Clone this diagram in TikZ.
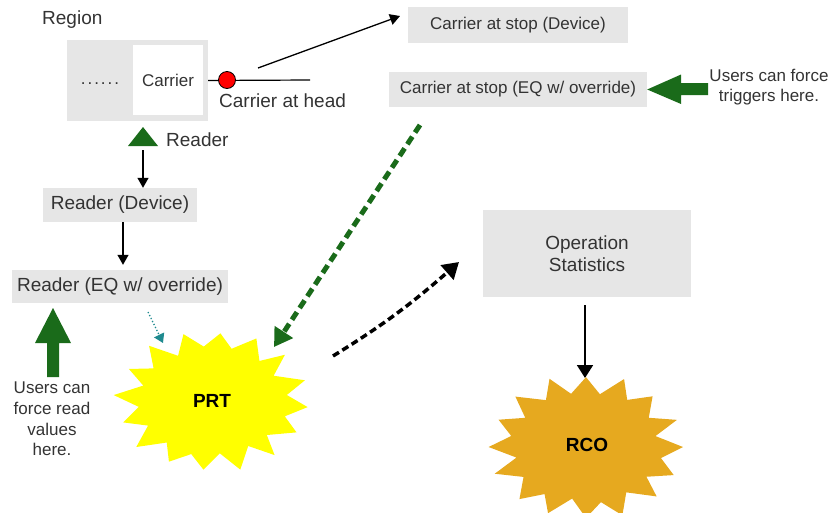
\documentclass[tikz,border=0pt]{standalone}
\usepackage{fontspec}
\setmainfont{Liberation Sans}
\usetikzlibrary{arrows.meta,bending}
\definecolor{boxgray}{HTML}{E6E6E6}
\definecolor{txt}{HTML}{333333}
\definecolor{dgreen}{HTML}{1A6B1A}
\definecolor{tealc}{HTML}{1F8A8F}
\definecolor{rcogold}{HTML}{E6A91F}
\definecolor{prtyellow}{HTML}{FFFF00}
\begin{document}
\begin{tikzpicture}[x=1pt,y=-1pt,
  box/.style={fill=boxgray, draw=none, text=txt, inner sep=0pt, align=center},
  lbl/.style={text=txt, inner sep=0pt},
  fbig/.style={font=\fontsize{19}{22}\selectfont},
  fmid/.style={font=\fontsize{17}{20.7}\selectfont},
  fbold/.style={font=\bfseries\fontsize{19}{22}\selectfont},
  arr/.style={-{Triangle[length=10pt,width=11pt]}, line width=1.3pt},
  bigarr/.style={-{Triangle[length=13pt,width=16pt]}, line width=1.8pt}
]
\useasboundingbox (0,0) rectangle (829,512);

% Region
\node[lbl, fbig, anchor=west] (regionlbl) at (42,20) {Region};
\node[box, minimum width=141pt, minimum height=81pt] (region) at (137.5,80.5) {};
\node[fill=white, minimum width=70pt, minimum height=70pt, inner sep=0pt, text=txt, fmid] (carrier) at (168,80) {Carrier};
\node[lbl, fmid] (dots) at (100,84) {.\kern2pt.\kern2pt.\kern2pt.\kern2pt.\kern2pt.};
\coordinate (lineend) at (310,80);
\draw[line width=1.2pt] (region.east) -- (lineend);
\node[circle, fill=red, draw=black, line width=0.8pt, minimum size=17pt, inner sep=0pt] (head) at (227,80) {};
\node[lbl, fbig, anchor=west] (headlbl) at (219,101) {Carrier at head};

% carrier at stop
\node[box, fmid, minimum width=220pt, minimum height=36pt] (dev) at (518,25) {Carrier at stop (Device)};
\node[box, fmid, minimum width=258pt, minimum height=35pt] (eq) at (518,89.5) {Carrier at stop (EQ w/ override)};
\coordinate (a1s) at (258,68);
\coordinate (a1e) at (400,16);
\draw[arr] (a1s) -- (a1e);

% users force triggers
\fill[dgreen] (eq.east) -- (681,74.5) -- (681,83) -- (708,83) -- (708,95) -- (681,95) -- (681,104) -- cycle;
\node[lbl, fmid, align=center] (trig) at (769,87) {Users can force\\triggers here.};

% reader
\fill[dgreen] (143,127) -- (158,146) -- (128,146) -- cycle;
\node[lbl, fbig, anchor=west] (readerlbl) at (166,140) {Reader};
\node[box, fbig, minimum width=154pt, minimum height=34pt] (readdev) at (120,205) {Reader (Device)};
\node[box, fbig, minimum width=216pt, minimum height=33pt] (readeq) at (120,286.5) {Reader (EQ w/ override)};
\coordinate (trib) at (143,150);
\draw[arr] (trib) -- (trib |- readdev.north);
\draw[arr, shorten >=5pt] ([xshift=3pt]readdev.south) -- ([xshift=3pt]readeq.north);

% users force read values
\fill[dgreen] (53,308) -- (71,343) -- (59,343) -- (59,377) -- (47,377) -- (47,343) -- (35,343) -- cycle;
\node[lbl, fmid, align=center] (force) at (52,419) {Users can\\force read\\values\\here.};

% PRT
\fill[prtyellow] plot[samples at={0,...,31}, variable=\k]
  ({212+96*(1-0.24*mod(\k,2)+0.03*sin(\k*97))*cos(\k*11.25+5)},
   {401+70*(1-0.24*mod(\k,2)+0.03*sin(\k*131))*sin(\k*11.25+5)}) -- cycle;
\node[fbold, text=black] (prt) at (212,401) {PRT};
\coordinate (tdots) at (148,312);
\coordinate (ttip) at (163,343);
\draw[tealc, dotted, line width=1.3pt, -{Triangle[length=9pt,width=11pt]}] (tdots) -- (ttip);

% green dashed
\coordinate (gs) at (420,125);
\coordinate (ge) at (274,347);
\draw[dgreen, line width=5pt, dash pattern=on 9pt off 5pt, -{Triangle[length=18pt,width=21pt]}] (gs) -- (ge);

% black dashed
\coordinate (bs) at (333,356);
\coordinate (be) at (459,262);
\draw[black, line width=3.5pt, dash pattern=on 7pt off 4pt, -{Triangle[length=16pt,width=19pt]}] (bs) to[bend right=5] (be);

% operation statistics
\node[box, fbig, minimum width=208pt, minimum height=87pt, align=center] (ops) at (587,253.5) {Operation\\Statistics};
\coordinate (rcotop) at (585,378);
\draw[bigarr, shorten <=8pt] (ops.south -| rcotop) -- (rcotop);

% RCO
\fill[rcogold] plot[samples at={0,...,31}, variable=\k]
  ({586+97*(1-0.24*mod(\k,2)+0.03*sin(\k*113))*cos(\k*11.25)},
   {447+72*(1-0.24*mod(\k,2)+0.03*sin(\k*71))*sin(\k*11.25)}) -- cycle;
\node[fbold, text=black] (rco) at (587,445) {RCO};
\end{tikzpicture}
\end{document}
